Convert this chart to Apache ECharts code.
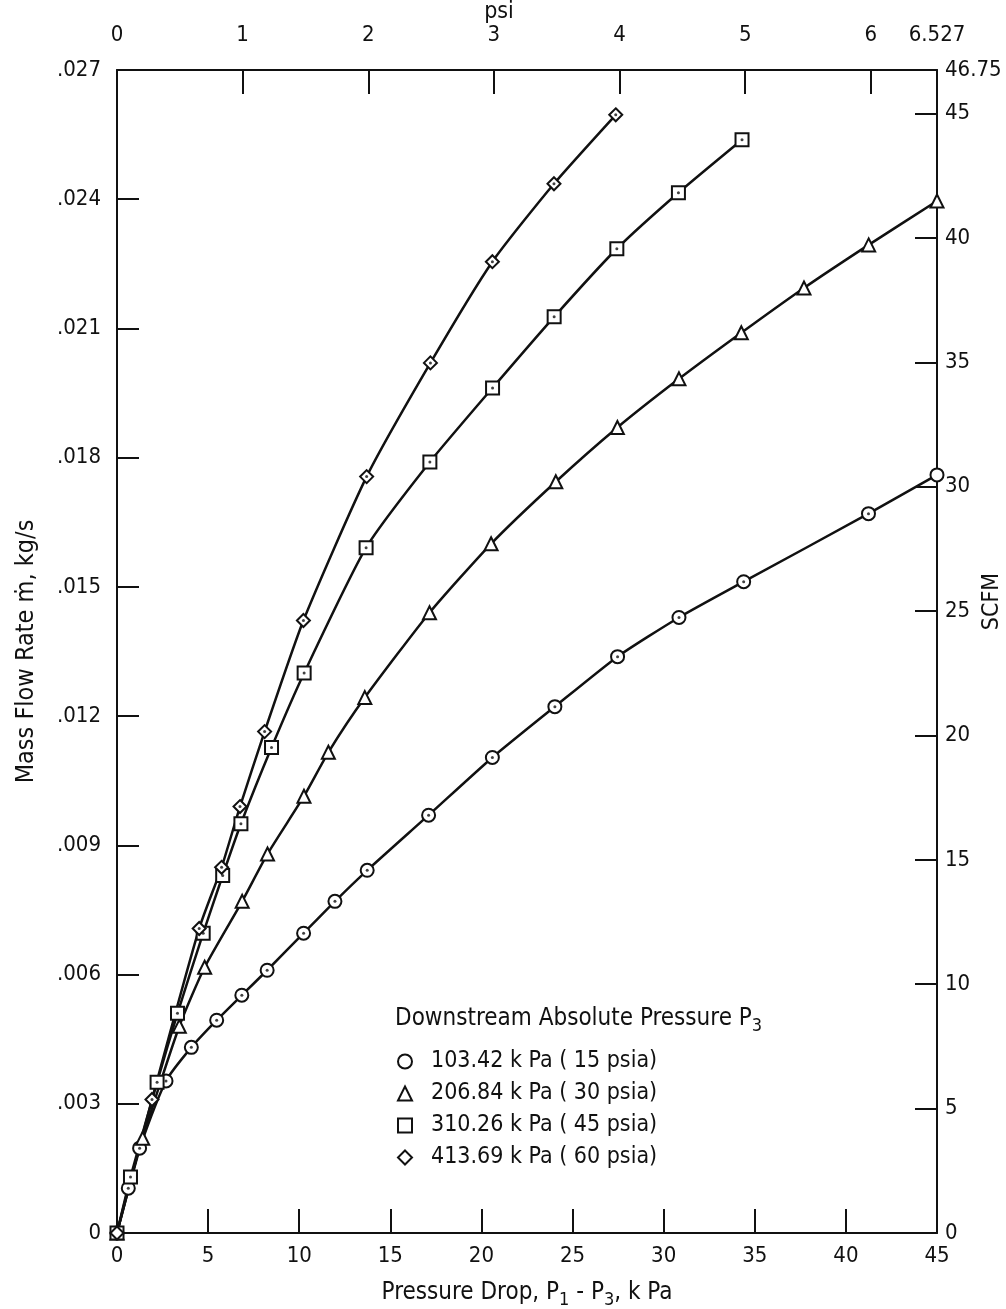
<!DOCTYPE html>
<html>
<head>
<meta charset="utf-8">
<script src="https://cdn.jsdelivr.net/npm/echarts@6/dist/echarts.min.js"></script>
<style>
  html, body { margin: 0; padding: 0; background: #fff; }
  #chart { width: 1006px; height: 1309px; }
</style>
</head>
<body>
<div id="chart"></div>
<script>
// pressure drop P1 - P3 in kPa, mass flow rate in kg/s
var names = [
	"103.42 k Pa ( 15 psia)",
	"206.84 k Pa ( 30 psia)",
	"310.26 k Pa ( 45 psia)",
	"413.69 k Pa ( 60 psia)"
];

var p15 = [
	[0, 0], [0.62, 0.00104], [1.24, 0.00197], [2.69, 0.00353], [4.08, 0.00431],
	[5.47, 0.00494], [6.85, 0.00552], [8.24, 0.0061], [10.24, 0.00696], [11.96, 0.0077],
	[13.73, 0.00842], [17.1, 0.0097], [20.6, 0.01104], [24.03, 0.01222], [27.47, 0.01338],
	[30.84, 0.01429], [34.39, 0.01512], [41.24, 0.0167], [45, 0.0176]
];
var p30 = [
	[0, 0], [1.41, 0.0022], [3.42, 0.0048], [4.81, 0.00617], [6.87, 0.0077],
	[8.26, 0.0088], [10.26, 0.01014], [11.6, 0.01116], [13.6, 0.01243], [17.15, 0.0144],
	[20.53, 0.016], [24.08, 0.01744], [27.46, 0.0187], [30.84, 0.01983], [34.26, 0.0209],
	[37.7, 0.02194], [41.25, 0.02294], [45, 0.02396]
];
var p45 = [
	[0, 0], [0.74, 0.0013], [2.2, 0.0035], [3.32, 0.0051], [4.73, 0.00696],
	[5.8, 0.0083], [6.8, 0.0095], [8.48, 0.01127], [10.27, 0.013], [13.67, 0.01591],
	[17.17, 0.0179], [20.61, 0.01962], [23.99, 0.02127], [27.43, 0.02285], [30.81, 0.02415],
	[34.3, 0.02538]
];
var p60 = [
	[0, 0], [1.92, 0.0031], [4.51, 0.00707], [5.74, 0.00849], [6.75, 0.0099],
	[8.1, 0.01164], [10.23, 0.01422], [13.7, 0.01756], [17.2, 0.0202], [20.6, 0.02255],
	[23.98, 0.02436], [27.37, 0.02596]
];

// tick labels
var psiTicks = [0, 1, 2, 3, 4, 5, 6, 6.527];
var scfmTicks = [0, 5, 10, 15, 20, 25, 30, 35, 40, 45, 46.75];

var font = "'Liberation Sans Narrow', 'DejaVu Sans Condensed', sans-serif";
var ink = "#111";
var psiMax = 45 / 6.894757;

var chart = echarts.init(document.getElementById("chart"));

function lineSeries(name, data, symbol) {
	return {
		name: name,
		type: "line",
		data: data,
		symbol: symbol,
		symbolSize: 13,
		smooth: 0.2,
		showAllSymbol: true,
		lineStyle: { color: ink, width: 2.5 },
		itemStyle: { color: ink, borderColor: ink, borderWidth: 2.2 },
		z: 2
	};
}
function dotSeries(name, data) {
	// little dot in the middle of each marker
	return {
		name: name,
		type: "scatter",
		data: data,
		symbol: "circle",
		symbolSize: 3,
		silent: true,
		itemStyle: { color: ink },
		z: 4
	};
}

var axisLine = { show: true, onZero: false, lineStyle: { color: ink, width: 2 } };
var labelStyle = { color: ink, fontFamily: font, fontSize: 22 };
var subStyle = { fontFamily: font, fontSize: 18, color: ink, verticalAlign: "top", padding: [14, 0, 0, 0] };

option = {
	backgroundColor: "#fff",
	animation: false,
	grid: { left: 117, right: 69, top: 70, bottom: 76, containLabel: false, outerBoundsMode: "none" },
	title: {
		text: "Downstream Absolute Pressure P{s|3}",
		left: 390,
		top: 998,
		textStyle: {
			color: ink,
			fontFamily: font,
			fontSize: 24,
			fontWeight: "normal",
			rich: { s: subStyle }
		}
	},
	legend: {
		orient: "vertical",
		left: 392,
		top: 1045,
		itemWidth: 14,
		itemHeight: 14,
		itemGap: 9,
		symbolKeepAspect: true,
		data: [
			{ name: names[0], icon: "emptyCircle" },
			{ name: names[1], icon: "emptyTriangle" },
			{ name: names[2], icon: "emptyRect" },
			{ name: names[3], icon: "emptyDiamond" }
		],
		itemStyle: { borderWidth: 2 },
		textStyle: { color: ink, fontFamily: font, fontSize: 23, padding: [0, 0, 0, 14] },
		selectedMode: false
	},
	xAxis: [
		{
			type: "value",
			min: 0,
			max: 45,
			interval: 5,
			position: "bottom",
			axisLine: axisLine,
			axisTick: { inside: true, length: 24, lineStyle: { color: ink, width: 2 } },
			axisLabel: Object.assign({ margin: 12 }, labelStyle),
			splitLine: { show: false },
			name: "Pressure Drop, P{s|1} - P{s|3}, k Pa",
			nameLocation: "middle",
			nameGap: 44,
			nameMoveOverlap: false,
			nameTextStyle: { color: ink, fontFamily: font, fontSize: 24, rich: { s: subStyle } }
		},
		{
			type: "value",
			min: 0,
			max: psiMax,
			position: "top",
			axisLine: axisLine,
			axisTick: { inside: true, length: 24, customValues: [1, 2, 3, 4, 5, 6], lineStyle: { color: ink, width: 2 } },
			axisLabel: Object.assign({
				margin: 24,
				customValues: psiTicks.map(function (v) { return v > 6.5 ? psiMax : v; }),
				formatter: function (v) { return v > 6.5 ? "6.527" : String(v); }
			}, labelStyle),
			splitLine: { show: false },
			name: "psi",
			nameLocation: "middle",
			nameGap: 46,
			nameMoveOverlap: false,
			nameTextStyle: { color: ink, fontFamily: font, fontSize: 23, padding: [0, 56, 0, 0] }
		}
	],
	yAxis: [
		{
			type: "value",
			min: 0,
			max: 0.027,
			interval: 0.003,
			position: "left",
			axisLine: axisLine,
			axisTick: { inside: true, length: 22, lineStyle: { color: ink, width: 2 } },
			axisLabel: Object.assign({
				margin: 16,
				formatter: function (v) {
					if (v === 0) return "0";
					return "." + String(Math.round(v * 1000)).padStart(3, "0");
				}
			}, labelStyle),
			splitLine: { show: false },
			name: "Mass Flow Rate \u1e41, kg/s",
			nameLocation: "middle",
			nameGap: 78,
			nameRotate: 90,
			nameMoveOverlap: false,
			nameTextStyle: { color: ink, fontFamily: font, fontSize: 25 }
		},
		{
			type: "value",
			min: 0,
			max: 46.75,
			position: "right",
			axisLine: axisLine,
			axisTick: { inside: true, length: 22, customValues: [5, 10, 15, 20, 25, 30, 35, 40, 45], lineStyle: { color: ink, width: 2 } },
			axisLabel: Object.assign({ margin: 8, customValues: scfmTicks }, labelStyle),
			splitLine: { show: false },
			name: "SCFM",
			nameLocation: "middle",
			nameGap: 44,
			nameRotate: 90,
			nameMoveOverlap: false,
			nameTextStyle: { color: ink, fontFamily: font, fontSize: 23, padding: [0, 0, 0, 100] }
		}
	],
	series: [
		lineSeries(names[0], p15, "emptyCircle"),
		lineSeries(names[1], p30, "emptyTriangle"),
		lineSeries(names[2], p45, "emptyRect"),
		lineSeries(names[3], p60, "emptyDiamond"),
		dotSeries(names[0], p15.slice(1, -1)),
		dotSeries(names[2], p45.slice(1)),
		dotSeries(names[3], p60.slice(1))
	]
};
chart.setOption(option);
window.addEventListener("resize", chart.resize);
</script>
</body>
</html>
